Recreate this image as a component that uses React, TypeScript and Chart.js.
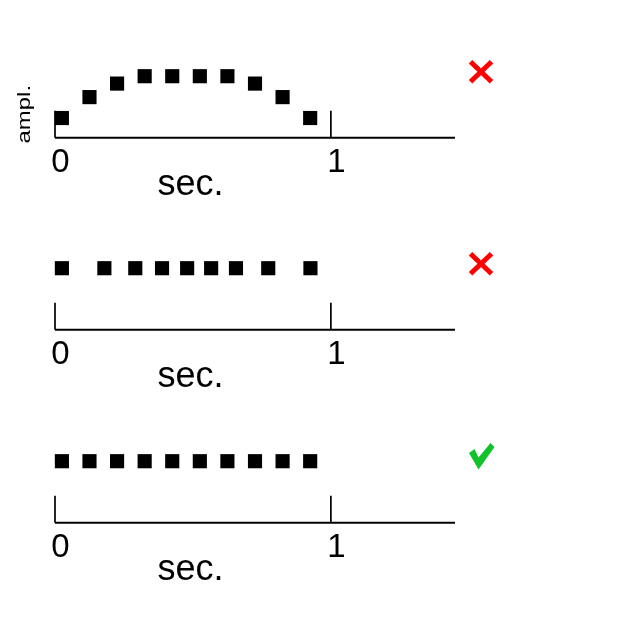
import React, { useEffect, useRef } from 'react';
import { Chart, registerables } from 'chart.js';

Chart.register(...registerables);

// ---- data ----
const sineTimes = [0.025, 0.125, 0.225, 0.325, 0.425, 0.525, 0.625, 0.725, 0.825, 0.925];
const sineAmps = [0.32, 0.66, 0.88, 1, 1, 1, 1, 0.88, 0.66, 0.32];

const irregularTimes = [0.025, 0.179, 0.291, 0.388, 0.479, 0.566, 0.656, 0.773, 0.926];
const irregularAmps = [1, 1, 1, 1, 1, 1, 1, 1, 1];

const regularTimes = [0.025, 0.125, 0.225, 0.325, 0.425, 0.525, 0.625, 0.725, 0.825, 0.925];
const regularAmps = [1, 1, 1, 1, 1, 1, 1, 1, 1, 1];

const tickValues = [0, 1];
const tickLabels = ['0', '1'];
const xTitle = 'sec.';
const yTitle = 'ampl.';
const verdicts = ['cross', 'cross', 'check'];

const FONT = '"Liberation Sans", Arial, Helvetica, sans-serif';

const axisPlugin = {
  id: 'sketchAxes',
  beforeDatasetsDraw(chart: any) {
    const ctx = chart.ctx;
    const xs = chart.scales.x;
    const ys = chart.scales.y;
    const y0 = ys.getPixelForValue(0);
    ctx.save();
    ctx.strokeStyle = '#000';
    ctx.lineWidth = 2;
    ctx.beginPath();
    ctx.moveTo(xs.left, y0);
    ctx.lineTo(xs.right, y0);
    ctx.stroke();
    ctx.lineWidth = 1.7;
    tickValues.forEach((v) => {
      const px = xs.getPixelForValue(v);
      ctx.beginPath();
      ctx.moveTo(px, y0);
      ctx.lineTo(px, y0 - 27);
      ctx.stroke();
    });
    ctx.restore();
  },
  afterDraw(chart: any, _args: any, opts: any) {
    const ctx = chart.ctx;
    const xs = chart.scales.x;
    const ys = chart.scales.y;
    const y0 = ys.getPixelForValue(0);
    ctx.save();
    ctx.fillStyle = '#000';
    ctx.textAlign = 'center';
    ctx.textBaseline = 'alphabetic';
    ctx.font = `33px ${FONT}`;
    tickValues.forEach((v, i) => {
      const px = xs.getPixelForValue(v);
      ctx.fillText(tickLabels[i], px + 5.5, y0 + 34);
    });
    ctx.font = `36px ${FONT}`;
    const mid = (xs.getPixelForValue(tickValues[0]) + xs.getPixelForValue(tickValues[1])) / 2;
    ctx.fillText(xTitle, mid - 2.5, y0 + 57.5);

    if (opts.showYTitle) {
      ctx.save();
      ctx.translate(xs.left - 25.5, y0 - 23.5);
      ctx.rotate(-Math.PI / 2);
      ctx.scale(1.33, 1);
      ctx.font = `18px ${FONT}`;
      ctx.textAlign = 'center';
      ctx.fillText(yTitle, 0, 0);
      ctx.restore();
    }

    const cx = xs.right + 26;
    const cy = y0 - 66;
    if (opts.verdict === 'cross') {
      ctx.strokeStyle = '#ff0000';
      ctx.lineWidth = 5;
      ctx.lineCap = 'butt';
      ctx.beginPath();
      ctx.moveTo(cx - 10.5, cy - 10);
      ctx.lineTo(cx + 10.5, cy + 10);
      ctx.moveTo(cx + 10.5, cy - 10);
      ctx.lineTo(cx - 10.5, cy + 10);
      ctx.stroke();
    } else if (opts.verdict === 'check') {
      ctx.fillStyle = '#11c22a';
      ctx.beginPath();
      ctx.moveTo(cx - 12, y0 - 69.7);
      ctx.lineTo(cx - 6.5, y0 - 73.7);
      ctx.lineTo(cx - 2.5, y0 - 65.2);
      ctx.lineTo(cx + 9.5, y0 - 79.7);
      ctx.lineTo(cx + 13.5, y0 - 75.7);
      ctx.lineTo(cx - 2.5, y0 - 53.2);
      ctx.closePath();
      ctx.fill();
    }
    ctx.restore();
  },
};

type PanelProps = {
  times: number[];
  amps: number[];
  verdict: string;
  showYTitle: boolean;
  top: number;
};

function Panel({ times, amps, verdict, showYTitle, top }: PanelProps) {
  const ref = useRef<HTMLCanvasElement | null>(null);
  useEffect(() => {
    if (!ref.current) return;
    const chart = new Chart(ref.current, {
      type: 'scatter',
      data: {
        datasets: [
          {
            data: times.map((t, i) => ({ x: t, y: amps[i] })),
            pointStyle: 'rect',
            pointRadius: 10,
            pointHoverRadius: 10,
            backgroundColor: '#000',
            borderColor: '#000',
            borderWidth: 0,
            showLine: false,
            clip: false,
          } as any,
        ],
      },
      options: {
        responsive: false,
        animation: false,
        events: [],
        layout: { padding: { left: 55, right: 165, top: 14.7, bottom: 62.3 } },
        scales: {
          x: { type: 'linear', min: 0, max: 1.45, display: false },
          y: { type: 'linear', min: 0, max: 2, display: false },
        },
        plugins: {
          legend: { display: false },
          tooltip: { enabled: false },
          sketchAxes: { verdict, showYTitle },
        } as any,
      },
      plugins: [axisPlugin],
    });
    return () => chart.destroy();
  }, [times, amps, verdict, showYTitle]);
  return (
    <canvas
      ref={ref}
      width={620}
      height={200}
      style={{ position: 'absolute', left: 0, top, width: 620, height: 200 }}
    />
  );
}

export default function App() {
  return (
    <div style={{ position: 'absolute', left: 0, top: 0, width: 620, height: 620, background: '#fff' }}>
      <Panel times={sineTimes} amps={sineAmps} verdict={verdicts[0]} showYTitle={true} top={0} />
      <Panel times={irregularTimes} amps={irregularAmps} verdict={verdicts[1]} showYTitle={false} top={192.3} />
      <Panel times={regularTimes} amps={regularAmps} verdict={verdicts[2]} showYTitle={false} top={385} />
    </div>
  );
}
